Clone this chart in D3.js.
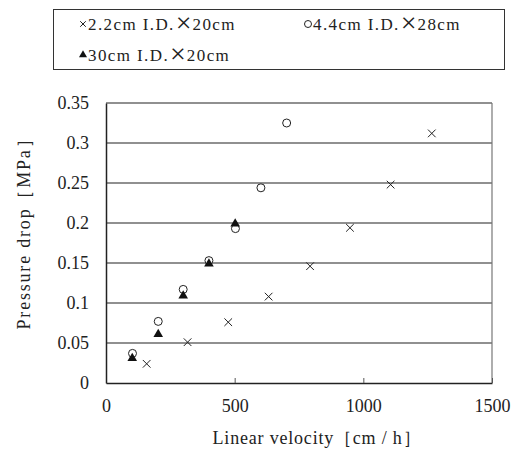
<!DOCTYPE html>
<html>
<head>
<meta charset="utf-8">
<script src="https://cdn.jsdelivr.net/npm/d3@7"></script>
<style>
body { margin: 0; background: #fff; }
svg text { font-family: "Liberation Serif", "DejaVu Serif", serif; fill: #222; }
</style>
</head>
<body>
<svg id="chart"></svg>
<script>
const seriesNames = [['2.2cm I.D.', '\u00d7', '20cm'], ['4.4cm I.D.', '\u00d7', '28cm'], ['30cm I.D.', '\u00d7', '20cm']];
const xSmall = [158, 317, 475, 632, 793, 948, 1106, 1266];
const ySmall = [0.024, 0.051, 0.076, 0.108, 0.146, 0.194, 0.248, 0.312];
const xMid = [103, 203, 300, 400, 503, 602, 702];
const yMid = [0.037, 0.077, 0.117, 0.153, 0.193, 0.244, 0.325];
const xLarge = [102, 203, 300, 400, 502];
const yLarge = [0.031, 0.061, 0.109, 0.149, 0.199];
const xTicks = [0, 500, 1000, 1500];
const yTicks = [0, 0.05, 0.1, 0.15, 0.2, 0.25, 0.3, 0.35];

const width = 520, height = 450;
const margin = {left: 106, right: 28, top: 103, bottom: 67};

const svg = d3.select('#chart').attr('width', width).attr('height', height);

const x = d3.scaleLinear().domain([0, 1500]).range([margin.left, width - margin.right]);
const y = d3.scaleLinear().domain([0, 0.35]).range([height - margin.bottom, margin.top]);

// grid lines
svg.append('g').selectAll('line').data(yTicks.filter(d => d > 0))
	.join('line')
	.attr('x1', x(0)).attr('x2', x(1500))
	.attr('y1', d => y(d)).attr('y2', d => y(d))
	.attr('stroke', '#222').attr('stroke-width', 1.2);

// right border
svg.append('line')
	.attr('x1', x(1500)).attr('x2', x(1500))
	.attr('y1', y(0)).attr('y2', y(0.35))
	.attr('stroke', '#777').attr('stroke-width', 1.2);

// axes
const xAxis = svg.append('g')
	.attr('transform', `translate(0,${y(0)})`)
	.call(d3.axisBottom(x).tickValues(xTicks).tickSizeInner(-5).tickSizeOuter(0).tickPadding(16).tickFormat(d3.format('d')));
xAxis.select('.domain').attr('stroke', '#222').attr('stroke-width', 1.5);
xAxis.selectAll('.tick line').attr('stroke', '#555');
xAxis.selectAll('text').style('font-size', '18px').style('font-family', '"Liberation Serif", serif').style('fill', '#222');

const yAxis = svg.append('g')
	.attr('transform', `translate(${x(0)},0)`)
	.call(d3.axisLeft(y).tickValues(yTicks).tickSize(0).tickPadding(17).tickFormat(d => d3.format('')(+d.toFixed(2))));
yAxis.select('.domain').attr('stroke', '#222').attr('stroke-width', 1.5);
yAxis.selectAll('text').style('font-size', '18px').style('font-family', '"Liberation Serif", serif').style('fill', '#222');

// markers
const cross = d3.symbol().type(d3.symbolX).size(40);
const tri = d3.symbol().type(d3.symbolTriangle).size(40);

svg.append('g').selectAll('path').data(xSmall.map((d, i) => [d, ySmall[i]]))
	.join('path')
	.attr('d', cross)
	.attr('transform', d => `translate(${x(d[0])},${y(d[1])})`)
	.attr('fill', 'none').attr('stroke', '#222').attr('stroke-width', 1);

svg.append('g').selectAll('circle').data(xMid.map((d, i) => [d, yMid[i]]))
	.join('circle')
	.attr('cx', d => x(d[0])).attr('cy', d => y(d[1]))
	.attr('r', 4)
	.attr('fill', '#fff').attr('stroke', '#222').attr('stroke-width', 1);

svg.append('g').selectAll('path').data(xLarge.map((d, i) => [d, yLarge[i]]))
	.join('path')
	.attr('d', tri)
	.attr('transform', d => `translate(${x(d[0])},${y(d[1])})`)
	.attr('fill', '#111');

// axis titles
svg.append('text')
	.attr('x', 317).attr('y', 444)
	.attr('text-anchor', 'middle')
	.style('font-size', '18px').style('letter-spacing', '0.8px')
	.text('Linear velocity\uff3bcm / h\uff3d');

svg.append('text')
	.attr('transform', `translate(30,229) rotate(-90)`)
	.attr('text-anchor', 'middle')
	.style('font-size', '18px').style('letter-spacing', '1.8px')
	.text('Pressure drop\uff3bMPa\uff3d');

// legend
const legend = svg.append('g');
legend.append('rect')
	.attr('x', 53.5).attr('y', 9.5).attr('width', 451).attr('height', 60)
	.attr('fill', '#fff').attr('stroke', '#333').attr('stroke-width', 1);

const legendPos = [[79, 24], [304, 24], [79, 55]];
const legendSym = [
	g => g.append('path').attr('d', d3.symbol().type(d3.symbolX).size(22)).attr('fill', 'none').attr('stroke', '#222').attr('stroke-width', 1),
	g => g.append('circle').attr('r', 3.5).attr('fill', 'none').attr('stroke', '#222').attr('stroke-width', 1),
	g => g.append('path').attr('d', d3.symbol().type(d3.symbolTriangle).size(28)).attr('fill', '#111')
];
seriesNames.forEach((name, i) => {
	const g = legend.append('g').attr('transform', `translate(${legendPos[i][0]},${legendPos[i][1]})`);
	legendSym[i](g.append('g').attr('transform', 'translate(4,0)'));
	const t = g.append('text')
		.attr('x', 9).attr('y', 5.5)
		.style('font-size', '17px').style('letter-spacing', '1.4px');
	t.append('tspan').text(name[0]);
	t.append('tspan').attr('dx', 1).attr('dy', 2).style('font-size', '28px').style('letter-spacing', '0px').text(name[1]);
	t.append('tspan').attr('dx', 1).attr('dy', -2).text(name[2]);
});
</script>
</body>
</html>
